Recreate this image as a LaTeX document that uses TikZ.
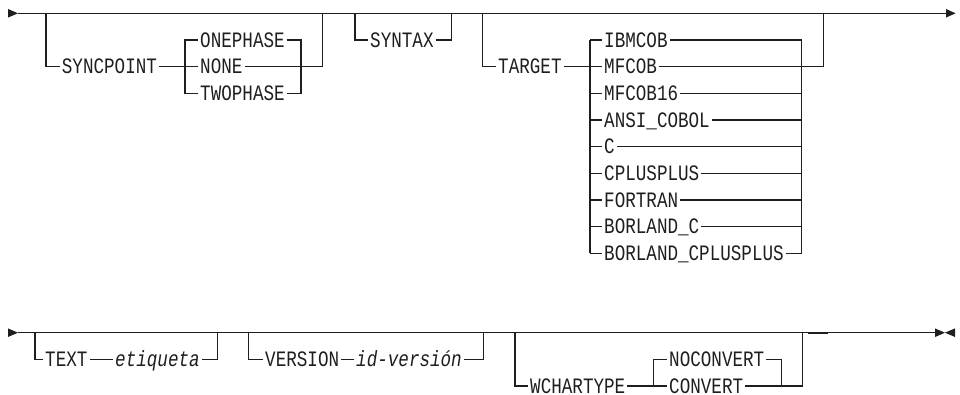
\documentclass[tikz,border=0pt]{standalone}
\usepackage{fontspec}
\newfontfamily\kwf[FakeStretch=0.8]{Liberation Mono}
\definecolor{ink}{HTML}{1E1E1E}
\begin{document}
\begin{tikzpicture}[x=1pt,y=-1pt,
  rr/.style={line width=1.1pt, draw=ink},
  kw/.style={font={\kwf\fontsize{22}{22}\selectfont}, text=ink, inner xsep=2pt, inner ysep=0pt,
             text height=14.4pt, text depth=0pt, anchor=west},
  var/.style={kw, font={\kwf\fontsize{22}{22}\selectfont\itshape}},
  tipbox/.style={fill=ink, draw=none}]
\useasboundingbox (0,0) rectangle (960,395);
% rows
\def\rA{13.3}\def\rB{40}\def\rC{66.7}\def\rD{93.3}\def\rE{120}\def\rF{146.7}
\def\rG{173.3}\def\rH{200}\def\rI{226.7}\def\rJ{253.3}
\def\bA{332.7}\def\bB{359.3}\def\bC{386}

% ---------- top line ----------
\coordinate (A0) at (18,\rA);
\coordinate (A1) at (946,\rA);
\fill[tipbox] (8,\rA-4.3) -- (A0) -- (8,\rA+4.3) -- cycle;
\draw[rr] (A0) -- (A1);
\fill[tipbox] (946,\rA-4.3) -- (955.5,\rA) -- (946,\rA+4.3) -- cycle;

% SYNCPOINT
\node[kw] (syncpoint) at (59.7,\rC) {SYNCPOINT};
\node[kw] (onephase) at (198,\rB) {ONEPHASE};
\node[kw] (none) at (198,\rC) {NONE};
\node[kw] (twophase) at (198,\rD) {TWOPHASE};
\coordinate (spin) at (46,\rA);
\coordinate (spout) at (322.7,\rA);
\coordinate (spoutlow) at (322.7,\rC);
\coordinate (spL1) at (185,\rB);
\coordinate (spL2) at (185,\rC);
\coordinate (spL3) at (185,\rD);
\coordinate (spR3) at (301,\rD);
\draw[rr] (spin) |- (syncpoint.west);
\draw[rr] (syncpoint.east) -- (spL2);
\draw[rr] (twophase.west) -| (spL1) -- (onephase.west);
\draw[rr] (spL2) -- (none.west);
\draw[rr] (onephase.east) -| (spR3) -- (twophase.east);
\draw[rr] (none.east) -- (spoutlow) -- (spout);

% SYNTAX
\node[kw] (syntax) at (368,\rB) {SYNTAX};
\coordinate (sxin) at (355,\rA);
\coordinate (sxout) at (451.7,\rA);
\draw[rr] (sxin) |- (syntax.west);
\draw[rr] (syntax.east) -| (sxout);

% TARGET
\node[kw] (target) at (496,\rC) {TARGET};
\coordinate (tgin) at (482.7,\rA);
\coordinate (tgL2) at (590,\rC);
\coordinate (tgout) at (823.3,\rA);
\coordinate (tgoutlow) at (823.3,\rC);
\draw[rr] (tgin) |- (target.west);
\draw[rr] (target.east) -- (tgL2);
\foreach \nm/\txt/\yy in {ibmcob/IBMCOB/\rB, mfcob/MFCOB/\rC, mfcobs/MFCOB16/\rD,
   ansi/ANSI\_COBOL/\rE, c/C/\rF, cpp/CPLUSPLUS/\rG, fortran/FORTRAN/\rH,
   borc/BORLAND\_C/\rI, borcpp/BORLAND\_CPLUSPLUS/\rJ}{
  \node[kw] (\nm) at (602,\yy) {\txt};
  \coordinate (\nm L) at (590,\yy);
  \coordinate (\nm R) at (801.7,\yy);
  \draw[rr] (\nm L) -- (\nm.west);
}
\draw[rr] (ibmcobL) -- (borcppL);
\draw[rr] (ibmcobR) -- (borcppR);
\foreach \nm in {ibmcob, mfcobs, ansi, c, cpp, fortran, borc, borcpp}{
  \draw[rr] (\nm.east) -- (\nm R);
}
\draw[rr] (mfcob.east) -- (tgoutlow) -- (tgout);

% ---------- bottom line ----------
\coordinate (B0) at (18,\bA);
\coordinate (B1) at (935,\bA);
\fill[tipbox] (8,\bA-4.3) -- (B0) -- (8,\bA+4.3) -- cycle;
\draw[rr] (B0) -- (B1);
\fill[tipbox] (935,\bA-4.3) -- (945,\bA) -- (935,\bA+4.3) -- cycle;
\fill[tipbox] (955,\bA-4.3) -- (945,\bA) -- (955,\bA+4.3) -- cycle;

% TEXT
\node[kw] (text) at (43,\bB) {TEXT};
\node[var] (etiq) at (113,\bB) {etiqueta};
\coordinate (txin) at (35,\bA);
\coordinate (txout) at (217.3,\bA);
\draw[rr] (txin) |- (text.west);
\draw[rr] (text.east) -- (etiq.west);
\draw[rr] (etiq.east) -| (txout);

% VERSION
\node[kw] (version) at (263,\bB) {VERSION};
\node[var] (idver) at (354,\bB) {id-versión};
\coordinate (vsin) at (248.3,\bA);
\coordinate (vsout) at (483.3,\bA);
\draw[rr] (vsin) |- (version.west);
\draw[rr] (version.east) -- (idver.west);
\draw[rr] (idver.east) -| (vsout);

% WCHARTYPE
\node[kw] (wchartype) at (528,\bC) {WCHARTYPE};
\node[kw] (noconvert) at (667,\bB) {NOCONVERT};
\node[kw] (convert) at (667,\bC) {CONVERT};
\coordinate (wcin) at (515,\bA);
\coordinate (wcL1) at (653.3,\bB);
\coordinate (wcL2) at (653.3,\bC);
\coordinate (wcR2) at (781.7,\bC);
\coordinate (wcoutlow) at (802.3,\bC);
\coordinate (wcout) at (802.3,\bA);
\draw[rr] (wcin) |- (wchartype.west);
\draw[rr] (wchartype.east) -- (wcL2) -- (wcL1) -- (noconvert.west);
\draw[rr] (wcL2) -- (convert.west);
\draw[rr] (noconvert.east) -| (wcR2);
\draw[rr] (convert.east) -- (wcoutlow) -- (wcout);
\coordinate (thk1) at (807.7,\bA);
\coordinate (thk2) at (828,\bA);
\draw[draw=ink, line width=2.2pt] (thk1) -- (thk2);
\end{tikzpicture}
\end{document}
